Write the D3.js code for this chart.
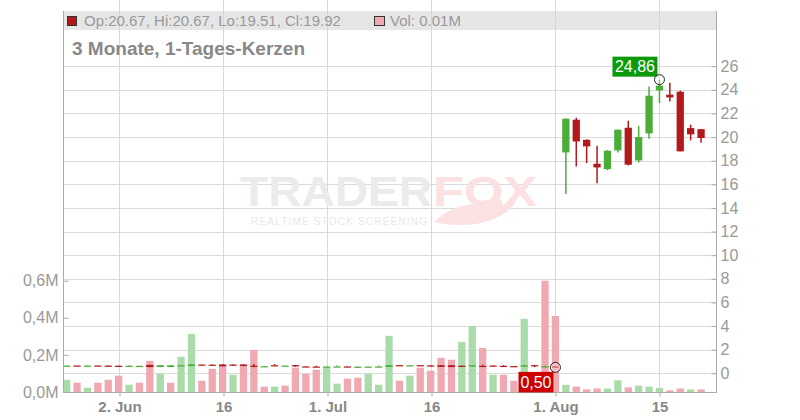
<!DOCTYPE html>
<html>
<head>
<meta charset="utf-8">
<script src="https://cdn.jsdelivr.net/npm/d3@7/dist/d3.min.js"></script>
<style>
  html, body { margin: 0; padding: 0; background: #fff; }
  svg { display: block; font-family: "Liberation Sans", Arial, sans-serif; }
</style>
</head>
<body>
<svg id="chart" width="800" height="420"></svg>
<script>
// ---------------- data ----------------
const dates = [
  "2025-05-23","2025-05-27","2025-05-28","2025-05-29","2025-05-30",
  "2025-06-02","2025-06-03","2025-06-04","2025-06-05","2025-06-06",
  "2025-06-09","2025-06-10","2025-06-11","2025-06-12","2025-06-13",
  "2025-06-16","2025-06-17","2025-06-18","2025-06-20","2025-06-23",
  "2025-06-24","2025-06-25","2025-06-26","2025-06-27","2025-06-30",
  "2025-07-01","2025-07-02","2025-07-03","2025-07-07","2025-07-08",
  "2025-07-09","2025-07-10","2025-07-11","2025-07-14","2025-07-15",
  "2025-07-16","2025-07-17","2025-07-18","2025-07-21","2025-07-22",
  "2025-07-23","2025-07-24","2025-07-25","2025-07-28","2025-07-29",
  "2025-07-30","2025-07-31","2025-08-01","2025-08-04","2025-08-05",
  "2025-08-06","2025-08-07","2025-08-08","2025-08-11","2025-08-12",
  "2025-08-13","2025-08-14","2025-08-15","2025-08-18","2025-08-19",
  "2025-08-20","2025-08-21"
];
const open  = [0.64,0.66,0.64,0.66,0.65,0.64,0.62,0.62,0.71,0.53,
               0.53,0.66,0.62,0.74,0.73,0.75,0.74,0.75,0.64,0.58,
               0.68,0.64,0.69,0.58,0.57,0.55,0.56,0.58,0.55,0.56,
               0.57,0.54,0.69,0.67,0.69,0.67,0.68,0.68,0.64,0.58,
               0.63,0.66,0.63,0.61,0.57,0.69,0.57,0.58,
               18.70,21.47,19.77,17.74,17.29,18.87,20.79,18.02,20.31,23.95,
               23.59,23.84,20.76,20.67];
const high  = [0.66,0.66,0.66,0.66,0.65,0.65,0.65,0.64,0.72,0.69,
               0.69,0.69,0.77,0.75,0.74,0.76,0.75,0.76,0.79,0.62,
               0.78,0.66,0.70,0.59,0.64,0.58,0.65,0.59,0.58,0.58,
               0.65,0.69,0.70,0.69,0.70,0.68,0.69,0.69,0.65,0.69,
               0.73,0.66,0.70,0.62,0.69,0.70,0.64,0.60,
               21.60,21.64,19.80,19.27,18.90,20.65,21.38,20.96,24.29,24.86,
               24.60,23.93,21.05,20.67];
const low   = [0.63,0.63,0.63,0.63,0.62,0.57,0.57,0.61,0.51,0.52,
               0.52,0.65,0.60,0.72,0.71,0.59,0.64,0.60,0.51,0.54,
               0.65,0.63,0.55,0.55,0.54,0.54,0.55,0.55,0.54,0.55,
               0.56,0.53,0.66,0.66,0.66,0.59,0.53,0.52,0.56,0.57,
               0.61,0.60,0.61,0.59,0.56,0.53,0.55,0.50,
               15.17,17.51,17.80,16.10,17.20,18.70,17.60,17.85,19.86,22.88,
               23.02,18.79,19.72,19.51];
const close = [0.65,0.64,0.65,0.64,0.63,0.62,0.64,0.63,0.53,0.68,
               0.67,0.68,0.75,0.73,0.72,0.60,0.72,0.62,0.61,0.60,
               0.66,0.65,0.58,0.56,0.55,0.57,0.58,0.57,0.56,0.57,
               0.58,0.68,0.67,0.68,0.67,0.66,0.54,0.53,0.62,0.68,
               0.62,0.63,0.62,0.60,0.68,0.60,0.59,0.53,
               21.55,19.63,19.21,17.43,18.84,20.62,17.66,20.00,23.50,24.35,
               23.36,18.79,20.23,19.92];
const volume = [0.066,0.050,0.023,0.050,0.066,0.088,0.039,0.050,0.168,0.098,
                0.050,0.190,0.313,0.061,0.125,0.141,0.093,0.141,0.227,0.029,
                0.029,0.034,0.131,0.098,0.120,0.131,0.045,0.072,0.077,0.098,
                0.039,0.303,0.061,0.088,0.131,0.115,0.184,0.174,0.270,0.356,
                0.238,0.093,0.093,0.061,0.394,0.050,0.600,0.410,
                0.039,0.029,0.014,0.019,0.019,0.063,0.025,0.034,0.029,0.022,
                0.009,0.019,0.014,0.014];
const priceTicks = [0,2,4,6,8,10,12,14,16,18,20,22,24,26];
const volumeTicks = [0,0.2,0.4,0.6];
const xTickDates  = ["2025-06-02","2025-06-16","2025-07-01","2025-07-16","2025-08-01","2025-08-15"];
const xTickLabels = ["2. Jun","16","1. Jul","16","1. Aug","15"];
const titleText = "3 Monate, 1-Tages-Kerzen";
const volLabel = "Vol: 0.01M";

// ---------------- layout ----------------
const L = 63, R = 716, B = 392, TOP = 11;
const GREEN = "#4aad38", RED = "#b3191b";
const VGREEN = "#aadcaa", VRED = "#f0a8b1";
const AX = "#aaaaaa", GRID = "#dadada", TXT = "#999999";

const svg = d3.select("#chart");
const data = dates.map((d, i) => ({
  d, i, o: open[i], h: high[i], l: low[i], c: close[i], v: volume[i],
  volUp: i === 0 ? true : close[i] >= close[i - 1]
}));

const x = d3.scaleBand().domain(dates).range([L, R - 11.3]).paddingInner(0.3).paddingOuter(0);
const xc = d => x(d) + x.bandwidth() / 2;
const y = d3.scaleLinear().domain([0, 26]).range([373.3, 66.2]);
const yv = d3.scaleLinear().domain([0, 0.6]).range([B, 280.7]);

// header bar
svg.append("rect").attr("x", L).attr("y", TOP).attr("width", R - L).attr("height", 19)
  .attr("fill", "#e6e6e6");

// horizontal gridlines (price ticks)
svg.append("g").selectAll("line").data(priceTicks).join("line")
  .attr("x1", L).attr("x2", R).attr("y1", d => Math.round(y(d)) + 0.5).attr("y2", d => Math.round(y(d)) + 0.5)
  .attr("stroke", GRID).attr("stroke-width", 1);

// vertical gridlines
svg.append("g").selectAll("line").data(xTickDates).join("line")
  .attr("x1", d => Math.round(xc(d)) + 0.5).attr("x2", d => Math.round(xc(d)) + 0.5)
  .attr("y1", 0).attr("y2", B)
  .attr("stroke", "#d4d4d4").attr("stroke-width", 1).attr("opacity", 0.9);

// watermark
const wm = svg.append("g");
wm.append("text").attr("x", 240).attr("y", 206).attr("font-size", 42).attr("font-weight", "bold")
  .attr("textLength", 192).attr("lengthAdjust", "spacingAndGlyphs")
  .attr("fill", "#ebebeb").text("TRADER");
wm.append("text").attr("x", 433).attr("y", 206).attr("font-size", 42).attr("font-weight", "bold")
  .attr("textLength", 104).attr("lengthAdjust", "spacingAndGlyphs")
  .attr("fill", "#fbe1e1").text("FOX");
wm.append("text").attr("x", 251).attr("y", 225).attr("font-size", 10)
  .attr("textLength", 176).attr("lengthAdjust", "spacing")
  .attr("fill", "#e8e8e8").text("REALTIME STOCK SCREENING");
wm.append("path")
  .attr("d", "M434,222 C446,210 462,204 476,204 L486,199 L490,205 L500,198 L503,205 L516,201 C510,214 486,226 458,225 C450,225 442,224 434,222 Z")
  .attr("fill", "#fbe1e1");

// volume bars
svg.append("g").selectAll("rect").data(data).join("rect")
  .attr("x", d => x(d.d)).attr("width", x.bandwidth())
  .attr("y", d => yv(d.v)).attr("height", d => B - yv(d.v))
  .attr("fill", d => d.volUp ? VGREEN : VRED);

// candles
const cg = svg.append("g");
cg.selectAll("line").data(data).join("line")
  .attr("x1", d => xc(d.d)).attr("x2", d => xc(d.d))
  .attr("y1", d => y(d.h)).attr("y2", d => y(d.l))
  .attr("stroke", d => d.c >= d.o ? GREEN : RED).attr("stroke-width", 1.5);
cg.selectAll("rect").data(data).join("rect")
  .attr("x", d => x(d.d)).attr("width", x.bandwidth())
  .attr("y", d => Math.min(y(d.o), y(d.c)))
  .attr("height", d => Math.max(1.2, Math.abs(y(d.o) - y(d.c))))
  .attr("fill", d => d.c >= d.o ? GREEN : RED);

// axes lines
svg.append("line").attr("x1", L + 0.5).attr("x2", L + 0.5).attr("y1", TOP).attr("y2", B).attr("stroke", AX);
svg.append("line").attr("x1", R + 0.5).attr("x2", R + 0.5).attr("y1", TOP).attr("y2", B).attr("stroke", AX);
svg.append("line").attr("x1", L).attr("x2", R + 1).attr("y1", B + 0.5).attr("y2", B + 0.5).attr("stroke", AX);

// right price axis
const ra = svg.append("g").attr("transform", `translate(${R + 0.5},0)`)
  .call(d3.axisRight(y).tickValues(priceTicks).tickSizeInner(-5).tickSizeOuter(0).tickPadding(4)
    .tickFormat(d => String(d)));
ra.select(".domain").remove();
ra.selectAll(".tick line").attr("stroke", AX);
ra.selectAll(".tick text").attr("fill", TXT).attr("font-size", 16).attr("font-family", "Liberation Sans, Arial, sans-serif");

// left volume axis
const la = svg.append("g").attr("transform", `translate(${L + 0.5},0)`)
  .call(d3.axisLeft(yv).tickValues(volumeTicks).tickSizeInner(-5).tickSizeOuter(0).tickPadding(5)
    .tickFormat(d => d3.format(".1f")(d).replace(".", ",") + "M"));
la.select(".domain").remove();
la.selectAll(".tick line").attr("stroke", AX);
la.selectAll(".tick text").attr("fill", TXT).attr("font-size", 16).attr("font-family", "Liberation Sans, Arial, sans-serif");

// bottom axis
const ba = svg.append("g").attr("transform", `translate(0,${B + 0.5})`)
  .call(d3.axisBottom(d3.scaleLinear().domain([0, 1]).range([0, 1]))
    .tickValues(xTickDates.map(d => Math.round(xc(d)) + 0.5)).tickSizeInner(4).tickSizeOuter(0).tickPadding(5)
    .tickFormat((d, i) => xTickLabels[i]));
ba.select(".domain").remove();
ba.selectAll(".tick line").attr("stroke", AX);
ba.selectAll(".tick text").attr("fill", "#888888").attr("font-size", 15).attr("font-weight", "bold")
  .attr("font-family", "Liberation Sans, Arial, sans-serif");

// header legend
const last = data[data.length - 1];
const fmt2 = d3.format(".2f");
svg.append("rect").attr("x", 67.5).attr("y", 16.5).attr("width", 9).attr("height", 9)
  .attr("fill", RED).attr("stroke", "#333").attr("stroke-width", 1);
svg.append("text").attr("x", 84).attr("y", 26).attr("font-size", 15).attr("fill", TXT)
  .text(`Op:${fmt2(last.o)}, Hi:${fmt2(last.h)}, Lo:${fmt2(last.l)}, Cl:${fmt2(last.c)}`);
svg.append("rect").attr("x", 374.5).attr("y", 16.5).attr("width", 10).attr("height", 9)
  .attr("fill", VRED).attr("stroke", "#333").attr("stroke-width", 1);
svg.append("text").attr("x", 390).attr("y", 26).attr("font-size", 15).attr("fill", TXT).text(volLabel);

// title
svg.append("text").attr("x", 72).attr("y", 55).attr("font-size", 19).attr("font-weight", "bold")
  .attr("fill", "#888888").text(titleText);

// max / min markers
const hiD = data.reduce((a, b) => b.h > a.h ? b : a);
const loD = data.reduce((a, b) => b.l < a.l ? b : a);
const commaFmt = v => fmt2(v).replace(".", ",");

const hx = xc(hiD.d), hy = y(hiD.h);
svg.append("rect").attr("x", hx - 47).attr("y", hy - 23).attr("width", 45).attr("height", 20).attr("fill", "#0b9a0b");
svg.append("text").attr("x", hx - 24.5).attr("y", hy - 7.5).attr("text-anchor", "middle")
  .attr("font-size", 16).attr("fill", "#fff").text(commaFmt(hiD.h));
svg.append("circle").attr("cx", hx).attr("cy", hy).attr("r", 5)
  .attr("fill", "rgba(255,255,255,0.3)").attr("stroke", "#222").attr("stroke-width", 1);

const lx = xc(loD.d), ly = y(loD.l);
svg.append("rect").attr("x", lx - 37).attr("y", ly + 4.5).attr("width", 35).attr("height", 20.5).attr("fill", "#cc0000");
svg.append("text").attr("x", lx - 19.5).attr("y", ly + 20.5).attr("text-anchor", "middle")
  .attr("font-size", 16).attr("fill", "#fff").text(commaFmt(loD.l));
svg.append("circle").attr("cx", lx).attr("cy", ly).attr("r", 5)
  .attr("fill", "rgba(255,255,255,0.3)").attr("stroke", "#222").attr("stroke-width", 1);
</script>
</body>
</html>
